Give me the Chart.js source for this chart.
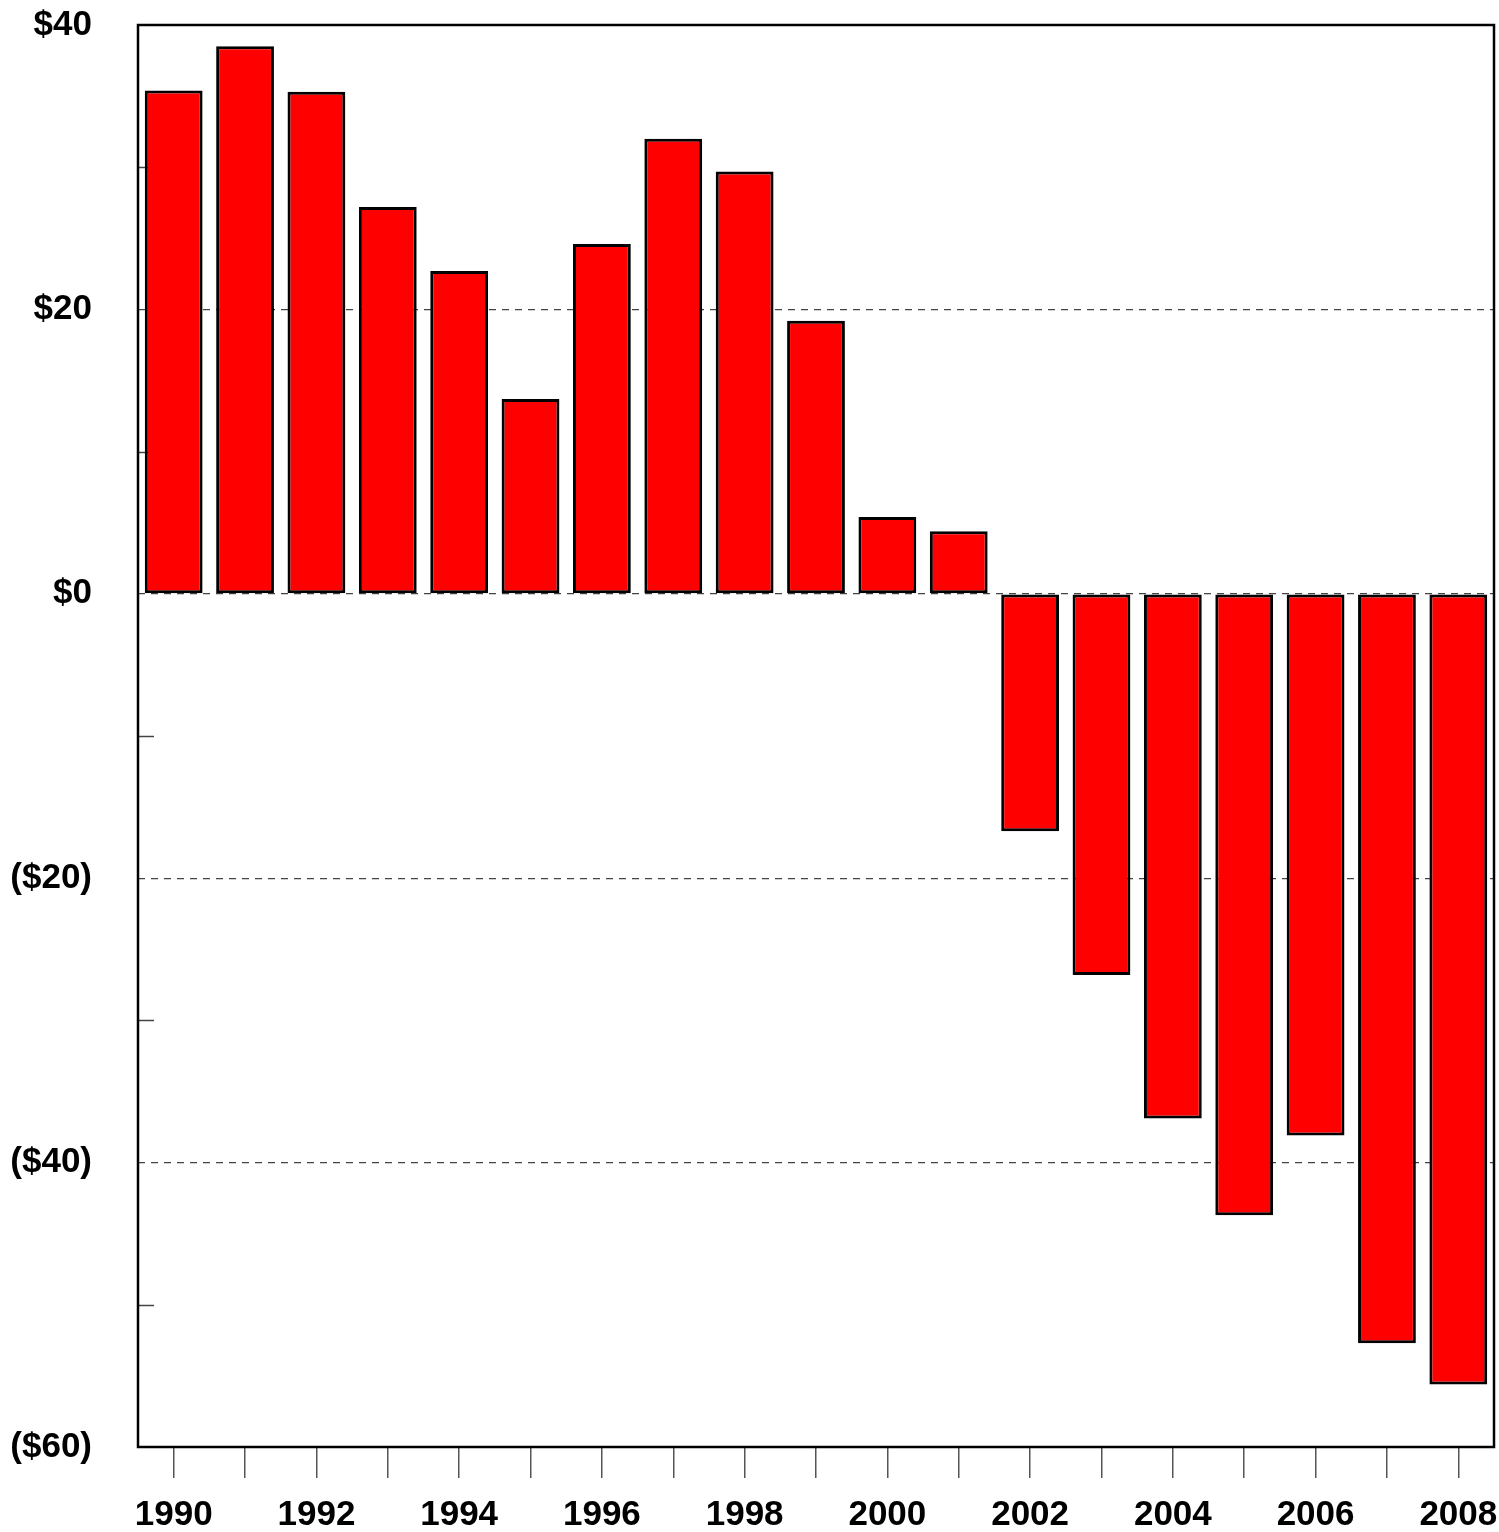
<!DOCTYPE html>
<html>
<head>
<meta charset="utf-8">
<script src="https://cdn.jsdelivr.net/npm/chart.js@4/dist/chart.umd.min.js"></script>
<style>
  html, body { margin: 0; padding: 0; background: #fff; }
  #wrap { position: relative; width: 1499px; height: 1532px; }
</style>
</head>
<body>
<div id="wrap"><canvas id="bar-chart"></canvas></div>
<script>
const years = ["1990", "1991", "1992", "1993", "1994", "1995", "1996", "1997", "1998", "1999",
               "2000", "2001", "2002", "2003", "2004", "2005", "2006", "2007", "2008"];
const balance = [35.4, 38.5, 35.3, 27.2, 22.7, 13.7, 24.6, 32.0, 29.7, 19.2,
                 5.4, 4.4, -16.7, -26.8, -36.9, -43.7, -38.1, -52.7, -55.6];
const yMin = -60;
const yMax = 40;

const fmtDollar = (v) => v < 0 ? "($" + Math.abs(v) + ")" : "$" + v;

// frame round the plot + short minor ticks on the y axis
const framePlugin = {
    id: "frame",
    beforeDatasetsDraw(chart) {
        const { ctx, chartArea, scales } = chart;
        ctx.save();
        ctx.strokeStyle = "#444";
        ctx.lineWidth = 1.5;
        scales.y.ticks.forEach((t) => {
            if (t.value % 20 !== 0) {
                const y = Math.round(scales.y.getPixelForValue(t.value)) + 0.5;
                ctx.beginPath();
                ctx.moveTo(chartArea.left, y);
                ctx.lineTo(chartArea.left + 16, y);
                ctx.stroke();
            }
        });
        ctx.restore();
    },
    afterDatasetsDraw(chart) {
        const { ctx, chartArea } = chart;
        ctx.save();
        ctx.strokeStyle = "#000";
        ctx.lineWidth = 2.5;
        ctx.strokeRect(chartArea.left, chartArea.top, chartArea.right - chartArea.left, chartArea.bottom - chartArea.top);
        ctx.restore();
    },
};

const chartConfig = {
    type: "bar",
    data: {
        labels: years,
        datasets: [
            {
                label: "Balance",
                data: balance,
                backgroundColor: "#FF0000",
                borderColor: "#000",
                borderWidth: 3,
                borderSkipped: false,
                barPercentage: 0.81,
                categoryPercentage: 1.0,
            },
        ],
    },
    options: {
        responsive: true,
        maintainAspectRatio: false,
        animation: false,
        layout: {
            padding: { left: 0, right: 5, top: 25, bottom: 0 },
        },
        plugins: {
            legend: { display: false },
            tooltip: { enabled: false },
        },
        scales: {
            x: {
                offset: true,
                grid: {
                    offset: false,
                    drawOnChartArea: false,
                    drawTicks: true,
                    tickLength: 31,
                    tickColor: "#555",
                    lineWidth: 1.5,
                },
                border: { display: false },
                ticks: {
                    autoSkip: false,
                    maxRotation: 0,
                    minRotation: 0,
                    padding: 0,
                    color: "#000",
                    font: { family: "'Liberation Sans', Arial, sans-serif", size: 35, weight: "bold", lineHeight: 2.15 },
                    callback: function (val, index) {
                        return index % 2 === 0 ? this.getLabelForValue(val) : "";
                    },
                },
                afterFit: (scale) => { scale.height = 85; },
            },
            y: {
                min: yMin,
                max: yMax,
                grid: {
                    drawTicks: true,
                    tickLength: 42,
                    tickColor: "rgba(0,0,0,0)",
                    lineWidth: 1.2,
                    color: (c) => {
                        const v = c.tick && c.tick.value;
                        if (v === yMin || v === yMax) return "rgba(0,0,0,0)";
                        return v % 20 === 0 ? "#444" : "rgba(0,0,0,0)";
                    },
                },
                border: { display: false, dash: [7, 6] },
                ticks: {
                    stepSize: 10,
                    padding: 4,
                    color: "#000",
                    font: { family: "'Liberation Sans', Arial, sans-serif", size: 35, weight: "bold" },
                    callback: (v) => v % 20 === 0 ? fmtDollar(v) : "",
                },
                afterFit: (scale) => { scale.width = 138; },
            },
        },
    },
    plugins: [framePlugin],
};

const ctx = document.getElementById("bar-chart").getContext("2d");
new Chart(ctx, chartConfig);
</script>
</body>
</html>
